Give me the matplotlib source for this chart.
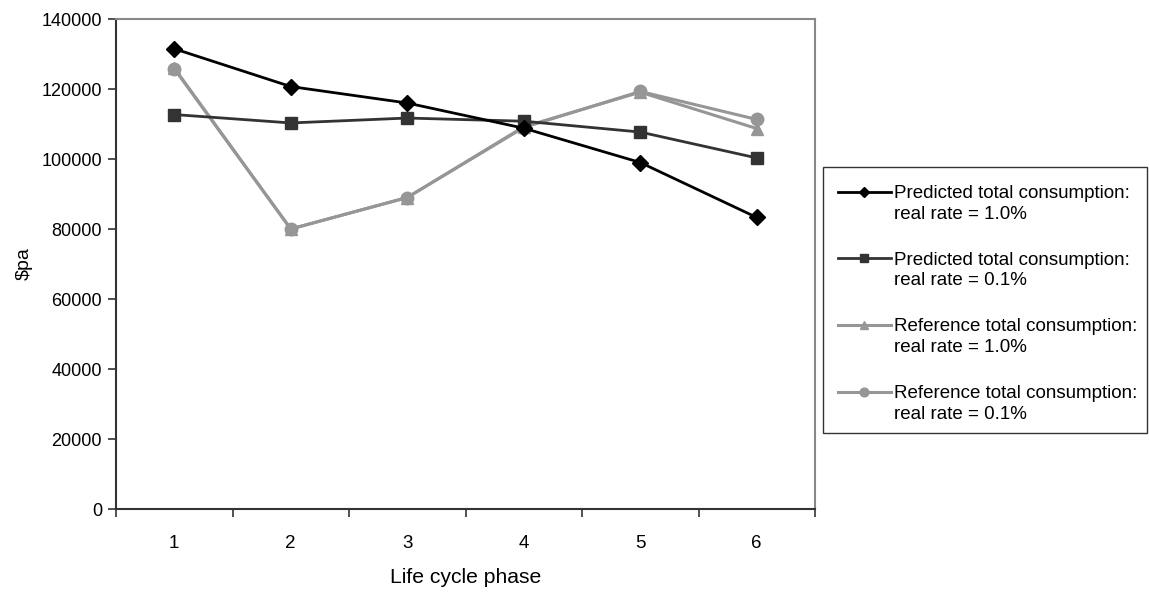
import matplotlib
matplotlib.use("Agg")
import matplotlib.pyplot as plt
from matplotlib.patches import Rectangle
from matplotlib.legend_handler import HandlerLine2D

plt.rcParams['font.family'] = ['Liberation Sans', 'DejaVu Sans']

phases = [1, 2, 3, 4, 5, 6]
pred_10 = [131500, 120700, 116000, 108800, 99000, 83300]
pred_01 = [112700, 110300, 111700, 110800, 107700, 100300]
ref_10 = [126000, 80000, 89000, 109200, 119100, 108700]
ref_01 = [125800, 80000, 89000, 109000, 119300, 111300]

labels = [
    "Predicted total consumption:\nreal rate = 1.0%",
    "Predicted total consumption:\nreal rate = 0.1%",
    "Reference total consumption:\nreal rate = 1.0%",
    "Reference total consumption:\nreal rate = 0.1%",
]
y_ticks = [0, 20000, 40000, 60000, 80000, 100000, 120000, 140000]

LEG_FS = 13.5
LEG_LS = 1.28


class FirstLineHandler(HandlerLine2D):
    """Align the legend handle with the first line of a two-line label."""
    def create_artists(self, legend, orig_handle, xdescent, ydescent,
                       width, height, fontsize, trans):
        s = 0.5 * LEG_LS * fontsize
        return super().create_artists(legend, orig_handle, xdescent, ydescent,
                                      width, height + 2 * s, fontsize, trans)


W, H = 1149, 594
fig = plt.figure(figsize=(W/100, H/100), dpi=100)
ax = fig.add_axes([116/W, 1-509/H, (815-116)/W, (509-19)/H])

gray = '#969696'
lines = []
lines += ax.plot(phases, ref_10, color=gray, lw=2.2, marker='^', ms=9, mec=gray, mfc=gray, label=labels[2], zorder=3)
lines += ax.plot(phases, ref_01, color=gray, lw=2.2, marker='o', ms=9, mec=gray, mfc=gray, label=labels[3], zorder=3)
lines += ax.plot(phases, pred_01, color='#333333', lw=2.0, marker='s', ms=9, mec='#333333', mfc='#333333', label=labels[1], zorder=4)
lines += ax.plot(phases, pred_10, color='black', lw=2.0, marker='D', ms=8, mec='black', mfc='black', label=labels[0], zorder=5)

ax.set_xlim(0.5, 6.5)
ax.set_ylim(0, 140000)
ax.set_yticks(y_ticks)
ax.set_yticklabels([str(v) for v in y_ticks])
ax.set_xticks([0.5 + i for i in range(7)])
ax.set_xticklabels([''] * 7)
ax.set_xticks(phases, minor=True)
ax.set_xticklabels([str(p) for p in phases], minor=True)
ax.tick_params(axis='x', which='minor', length=0, pad=19, labelsize=13.5)
ax.tick_params(axis='x', which='major', length=6, direction='out', width=1.2, color='#333333')
ax.tick_params(axis='y', length=6, direction='out', width=1.2, color='#333333', labelsize=13, pad=4)

for s in ['left', 'bottom']:
    ax.spines[s].set_color('#333333')
    ax.spines[s].set_linewidth(1.5)
for s in ['top', 'right']:
    ax.spines[s].set_color('#888888')
    ax.spines[s].set_linewidth(1.5)

ax.set_ylabel('$pa', fontsize=14, labelpad=6)
ax.set_xlabel('Life cycle phase', fontsize=15.2, labelpad=11)

order = [lines[3], lines[2], lines[0], lines[1]]
leg = fig.legend(order, [l.get_label() for l in order],
                 loc='upper left', bbox_to_anchor=(838/W, 1-185/H),
                 fontsize=LEG_FS, frameon=False,
                 handlelength=2.8, handletextpad=0.2, labelspacing=1.55,
                 markerscale=0.7, borderpad=0, borderaxespad=0,
                 handler_map={l: FirstLineHandler() for l in order})
for t in leg.get_texts():
    t.set_linespacing(LEG_LS)

fig.patches.append(Rectangle((823/W, 1-433/H), (1147-823)/W, (433-167)/H,
                             transform=fig.transFigure, fill=False,
                             edgecolor='#333333', linewidth=1.0))

fig.savefig('out.png', dpi=100, facecolor='white')
